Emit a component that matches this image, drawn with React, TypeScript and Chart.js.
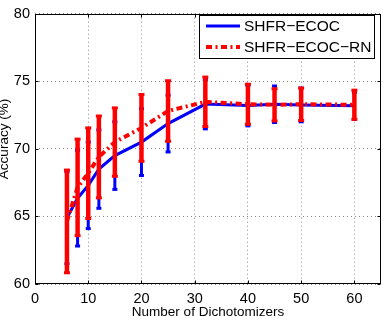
import React, { useEffect, useRef } from "react";
import { Chart, registerables } from "chart.js";

Chart.register(...registerables);

const X_VALUES = [6, 8, 10, 12, 15, 20, 25, 32, 40, 45, 50, 60];
const ECOC_MEAN = [64.9, 66.35, 67.3, 68.5, 69.5, 70.5, 71.87, 73.31, 73.2, 73.3, 73.25, 73.18];
const ECOC_ERR = [3.4, 3.54, 3.2, 2.9, 2.5, 2.47, 2.1, 1.83, 1.5, 1.35, 1.25, 1.0];
const RN_MEAN = [64.63, 67.15, 68.2, 69.4, 70.5, 71.55, 72.8, 73.48, 73.3, 73.26, 73.3, 73.26];
const RN_ERR = [3.8, 3.57, 3.35, 3.03, 2.53, 2.47, 2.24, 1.83, 1.48, 1.19, 1.2, 1.08];
const X_TICKS = [0, 10, 20, 30, 40, 50, 60];
const Y_TICKS = [60, 65, 70, 75, 80];
const LABEL_ECOC = "SHFR\u2212ECOC";
const LABEL_RN = "SHFR\u2212ECOC\u2212RN";
const X_TITLE = "Number of Dichotomizers";
const Y_TITLE = "Accuracy (%)";

const FONT = "'Liberation Sans', Arial, sans-serif";

const errorBarPlugin = {
  id: "errorBars",
  beforeDatasetDraw(chart: any, args: any) {
    const ds: any = chart.data.datasets[args.index];
    const errs: number[] = ds.errors;
    if (!errs) return;
    const ctx = chart.ctx;
    const xs = chart.scales.x;
    const ys = chart.scales.y;
    ctx.save();
    ctx.strokeStyle = ds.borderColor;
    ctx.fillStyle = ds.borderColor;
    ctx.lineWidth = ds.errWidth;
    ctx.lineCap = "butt";
    ctx.setLineDash([]);
    ds.data.forEach((p: any, i: number) => {
      const px = xs.getPixelForValue(p.x);
      const top = ys.getPixelForValue(p.y + errs[i]);
      const bot = ys.getPixelForValue(p.y - errs[i]);
      ctx.beginPath();
      ctx.moveTo(px, top);
      ctx.lineTo(px, bot);
      ctx.stroke();
      const cw = ds.capWidth;
      const ch = ds.capHeight;
      ctx.fillRect(px - cw / 2, top - ch / 2, cw, ch);
      ctx.fillRect(px - cw / 2, bot - ch / 2, cw, ch);
    });
    ctx.restore();
  },
};

const framePlugin = {
  id: "frame",
  afterDraw(chart: any) {
    const ctx = chart.ctx;
    const a = chart.chartArea;
    const xs = chart.scales.x;
    const ys = chart.scales.y;
    ctx.save();
    ctx.strokeStyle = "#000";
    ctx.lineWidth = 1;
    ctx.setLineDash([]);
    const L = Math.round(a.left) + 0.5;
    const R = Math.round(a.right) - 0.5;
    const T = Math.round(a.top) + 0.5;
    const B = Math.round(a.bottom) - 0.5;
    ctx.beginPath();
    const tl = 3;
    X_TICKS.forEach((v) => {
      const px = Math.round(xs.getPixelForValue(v)) + 0.5;
      ctx.moveTo(px, B);
      ctx.lineTo(px, B - tl);
      ctx.moveTo(px, T);
      ctx.lineTo(px, T + tl);
    });
    Y_TICKS.forEach((v) => {
      const py = Math.round(ys.getPixelForValue(v)) + 0.5;
      ctx.moveTo(L, py);
      ctx.lineTo(L + tl, py);
      ctx.moveTo(R, py);
      ctx.lineTo(R - tl, py);
    });
    ctx.stroke();
    ctx.strokeRect(L, T, R - L, B - T);

    // y-axis title
    ctx.save();
    ctx.translate(8, 139);
    ctx.rotate(-Math.PI / 2);
    ctx.fillStyle = "#000";
    ctx.font = `13.5px ${FONT}`;
    ctx.textAlign = "center";
    ctx.textBaseline = "alphabetic";
    ctx.fillText(Y_TITLE, 0, 0);
    ctx.restore();

    // legend
    const bx = 199.5, by = 15.5, bw = 175, bh = 43;
    ctx.fillStyle = "#fff";
    ctx.fillRect(bx, by, bw, bh);
    ctx.strokeStyle = "#000";
    ctx.lineWidth = 1;
    ctx.strokeRect(bx, by, bw, bh);
    const rows = [26, 47];
    chart.data.datasets.forEach((ds: any, i: number) => {
      const y = rows[i];
      ctx.save();
      ctx.strokeStyle = ds.borderColor;
      ctx.lineWidth = ds.borderWidth;
      ctx.setLineDash(ds.borderDash || []);
      ctx.lineCap = "butt";
      ctx.beginPath();
      ctx.moveTo(206, y);
      ctx.lineTo(240, y);
      ctx.stroke();
      ctx.restore();
      ctx.fillStyle = "#000";
      ctx.font = `15.5px ${FONT}`;
      ctx.textAlign = "left";
      ctx.textBaseline = "middle";
      ctx.fillText(ds.label, 244, y + 1);
    });
    ctx.restore();
  },
};

export default function App() {
  const ref = useRef<HTMLCanvasElement | null>(null);
  useEffect(() => {
    if (!ref.current) return;
    const chart = new Chart(ref.current, {
      type: "line",
      data: {
        datasets: [
          {
            label: LABEL_ECOC,
            data: X_VALUES.map((x, i) => ({ x, y: ECOC_MEAN[i] })),
            borderColor: "#0000ff",
            backgroundColor: "#0000ff",
            borderWidth: 3,
            pointRadius: 0,
            tension: 0,
            order: 2,
            errors: ECOC_ERR,
            errWidth: 3,
            capWidth: 5,
            capHeight: 3,
          } as any,
          {
            label: LABEL_RN,
            data: X_VALUES.map((x, i) => ({ x, y: RN_MEAN[i] })),
            borderColor: "#ff0000",
            backgroundColor: "#ff0000",
            borderWidth: 4,
            borderDash: [6, 3.5, 2, 3.5],
            pointRadius: 0,
            tension: 0,
            order: 1,
            errors: RN_ERR,
            errWidth: 4.5,
            capWidth: 6,
            capHeight: 3,
          } as any,
        ],
      },
      options: {
        responsive: false,
        animation: false,
        layout: { padding: { left: 0, top: 11, right: 3, bottom: 0 } },
        plugins: {
          legend: { display: false },
          tooltip: { enabled: false },
        },
        scales: {
          x: {
            type: "linear",
            min: 0,
            max: 65,
            afterBuildTicks: (s: any) => {
              s.ticks = X_TICKS.map((v) => ({ value: v }));
            },
            afterFit: (s: any) => {
              s.height = 32;
            },
            grid: { color: "#888", lineWidth: 1, drawTicks: false },
            border: { display: false, dash: [1, 3] },
            ticks: {
              color: "#000",
              padding: 6,
              maxRotation: 0,
              font: { family: FONT, size: 14.5 },
            },
            title: {
              display: true,
              text: X_TITLE,
              color: "#000",
              font: { family: FONT, size: 13.5 },
              padding: { top: 0, bottom: -4 },
            },
          },
          y: {
            type: "linear",
            min: 60,
            max: 80,
            afterBuildTicks: (s: any) => {
              s.ticks = Y_TICKS.map((v) => ({ value: v }));
            },
            afterFit: (s: any) => {
              s.width = 35;
            },
            grid: { color: "#888", lineWidth: 1, drawTicks: false },
            border: { display: false, dash: [1, 3] },
            ticks: {
              color: "#000",
              padding: 5,
              font: { family: FONT, size: 14.5 },
            },
          },
        },
      },
      plugins: [errorBarPlugin, framePlugin],
    } as any);
    return () => chart.destroy();
  }, []);
  return (
    <div style={{ position: "fixed", left: 0, top: 0, width: 384, height: 316, background: "#fff" }}>
      <canvas ref={ref} width={384} height={316} style={{ display: "block" }} />
    </div>
  );
}
